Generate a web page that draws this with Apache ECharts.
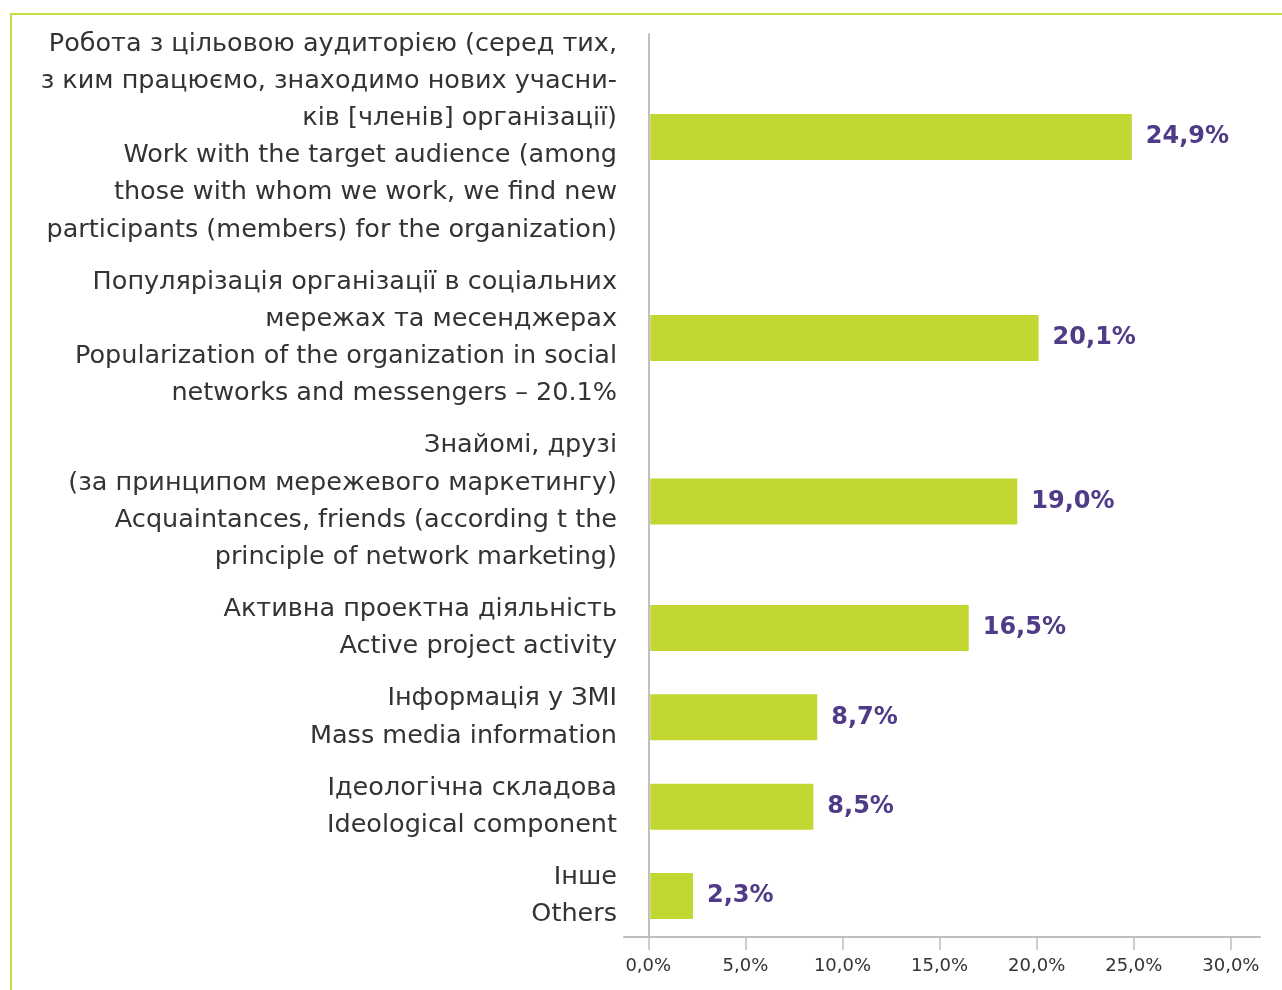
<!DOCTYPE html>
<html>
<head>
<meta charset="utf-8">
<script src="https://cdn.jsdelivr.net/npm/echarts@6/dist/echarts.min.js"></script>
<style>
  html, body { margin: 0; padding: 0; background: #fff; }
  #frame {
    position: absolute; left: 10px; top: 13px; width: 1272px; height: 977px;
    border-top: 2px solid #c8dc44; border-left: 2px solid #c8dc44; box-sizing: border-box;
  }
  #chart { position: absolute; left: 0; top: 0; width: 1282px; height: 990px; }
</style>
</head>
<body>
<div id="frame"></div>
<div id="chart"></div>
<script>
// дані
var categories = [
  "Робота з цільовою аудиторією (серед тих,\nз ким працюємо, знаходимо нових учасни-\nків [членів] організації)\nWork with the target audience (among\nthose with whom we work, we find new\nparticipants (members) for the organization)",
  "Популярізація організації в соціальних\nмережах та месенджерах\nPopularization of the organization in social\nnetworks and messengers – 20.1%",
  "Знайомі, друзі\n(за принципом мережевого маркетингу)\nAcquaintances, friends (according t the\nprinciple of network marketing)",
  "Активна проектна діяльність\nActive project activity",
  "Інформація у ЗМІ\nMass media information",
  "Ідеологічна складова\nIdeological component",
  "Інше\nOthers"
];
var values = [24.9, 20.1, 19.0, 16.5, 8.7, 8.5, 2.3];
var xTicks = [0, 5, 10, 15, 20, 25, 30];

var lineH = 37.2;      // px per text line
var gridTop = 34, gridBottom = 53;
var plotH = 990 - gridTop - gridBottom;

// row centers (in text-line units) from label line counts
var centers = [];
var pos = 0.27;
for (var i = 0; i < categories.length; i++) {
  var n = categories[i].split("\n").length;
  centers.push(pos + (n - 1) / 2);
  pos += n - 1 + 1.4;
}

function pct(v) {
  return v.toFixed(1).replace(".", ",") + "%";
}

var chart = echarts.init(document.getElementById("chart"));
chart.setOption({
  animation: false,
  grid: { left: 624, right: 22, top: gridTop, bottom: gridBottom, containLabel: false },
  xAxis: {
    type: "value",
    min: -1.25,
    max: 31.5,
    splitLine: { show: false },
    axisLine: { onZero: false, lineStyle: { color: "#bdbdbd", width: 2 } },
    axisTick: { show: true, length: 13, customValues: xTicks, lineStyle: { color: "#bdbdbd", width: 1.5 } },
    axisLabel: {
      customValues: xTicks,
      formatter: function (v) { return pct(v); },
      color: "#333",
      fontFamily: "DejaVu Sans",
      fontSize: 18,
      margin: 20
    }
  },
  yAxis: {
    type: "value",
    inverse: true,
    min: 0,
    max: plotH / lineH,
    splitLine: { show: false },
    axisLine: { show: true, onZero: true, lineStyle: { color: "#c0c0c0", width: 2 } },
    axisTick: { show: false },
    axisLabel: {
      customValues: centers,
      formatter: function (v) {
        for (var k = 0; k < centers.length; k++) {
          if (Math.abs(centers[k] - v) < 1e-6) return categories[k];
        }
        return "";
      },
      color: "#333",
      fontFamily: "DejaVu Sans",
      fontSize: 25.5,
      lineHeight: lineH,
      align: "right",
      margin: 7
    }
  },
  series: [
    {
      type: "custom",
      data: values.map(function (v, k) { return [v, centers[k]]; }),
      encode: { x: 0, y: 1 },
      renderItem: function (params, api) {
        var v = api.value(0);
        var start = api.coord([0, api.value(1)]);
        var end = api.coord([v, api.value(1)]);
        var h = 46;
        return {
          type: "group",
          children: [
            {
              type: "rect",
              shape: { x: start[0] + 2, y: start[1] - h / 2, width: end[0] - start[0] - 2, height: h },
              style: { fill: "#c2d731" }
            },
            {
              type: "text",
              style: {
                x: end[0] + 14,
                y: end[1],
                text: pct(v),
                fill: "#4f3b87",
                font: "bold 24px 'DejaVu Sans'",
                verticalAlign: "middle",
                align: "left"
              }
            }
          ]
        };
      }
    }
  ]
});
</script>
</body>
</html>
